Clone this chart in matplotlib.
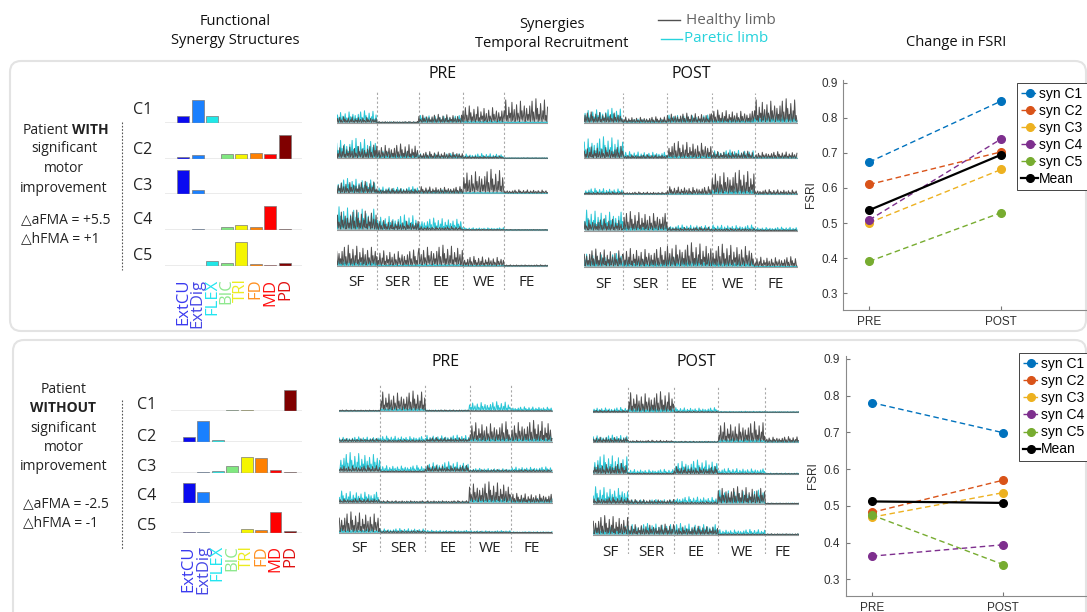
import numpy as np
import matplotlib.pyplot as plt
from matplotlib.patches import FancyBboxPatch

W, H = 1087, 612
HEAD_FONT = ['Open Sans', 'DejaVu Sans']
AX_FONT = ['Liberation Sans', 'DejaVu Sans']

# synergy structures (muscle weights, C1..C5)
MUSCLES = ['ExtCU', 'ExtDig', 'FLEX', 'BIC', 'TRI', 'FD', 'MD', 'PD']
BAR_COLORS = ['#0a0af0', '#1a80ff', '#20e8e8', '#80e880', '#f5f500', '#ff8000', '#ff0000', '#800000']
LABEL_COLORS = ['#3a3af0', '#4646e6', '#22e5f0', '#8ee88e', '#ecec20', '#ff9020', '#ff1010', '#e01010']
SYN = ['C1', 'C2', 'C3', 'C4', 'C5']

W_TOP = [[0.26, 0.95, 0.26, 0, 0, 0, 0, 0],
         [0.05, 0.15, 0, 0.20, 0.17, 0.25, 0.18, 0.97],
         [1.00, 0.20, 0, 0.02, 0.02, 0.02, 0, 0.02],
         [0, 0.03, 0, 0.12, 0.17, 0.10, 1.00, 0.02],
         [0, 0, 0.20, 0.12, 1.00, 0.08, 0.05, 0.13]]
W_BOT = [[0, 0, 0.02, 0.05, 0.05, 0.02, 0.03, 1.00],
         [0.23, 1.00, 0.09, 0, 0, 0, 0, 0],
         [0, 0.01, 0.07, 0.29, 0.73, 0.68, 0.14, 0.03],
         [0.92, 0.51, 0, 0.02, 0, 0, 0, 0],
         [0.02, 0.03, 0, 0, 0.17, 0.12, 0.96, 0.09]]

# temporal recruitment: peak activation per task (rows C1..C5)
TASKS = ['SF', 'SER', 'EE', 'WE', 'FE']
TOP_PRE_DUR = [40, 42, 44, 41, 44]
TOP_POST_DUR = [39, 44, 44, 43, 43]
BOT_PRE_DUR = [41, 45, 44, 41, 42]
BOT_POST_DUR = [35, 46, 44, 47, 34]

TOP_PRE_H = [[0.25, 0.05, 0.35, 0.70, 1.00],
             [0.55, 0.60, 0.28, 0.10, 0.02],
             [0.50, 0.20, 0.28, 1.00, 0.15],
             [0.83, 0.40, 0.15, 0.03, 0.02],
             [0.87, 0.67, 0.87, 0.40, 0.05]]
TOP_PRE_P = [[0.50, 0.03, 0.30, 0.10, 0.05],
             [0.83, 0.30, 0.20, 0.20, 0.02],
             [0.62, 0.28, 0.15, 0.05, 0.03],
             [0.97, 0.63, 0.50, 0.10, 0.02],
             [0.30, 0.10, 0.10, 0.05, 0.03]]
TOP_POST_H = [[0.45, 0.25, 0.40, 0.53, 1.00],
              [0.50, 0.15, 0.70, 0.30, 0.28],
              [0.10, 0.10, 0.32, 1.00, 0.20],
              [0.50, 0.80, 0.15, 0.10, 0.05],
              [0.74, 0.80, 1.00, 0.94, 0.42]]
TOP_POST_P = [[0.60, 0.15, 0.32, 0.20, 0.40],
              [0.90, 0.28, 0.20, 0.35, 0.10],
              [0.25, 0.05, 0.05, 0.30, 0.05],
              [0.86, 0.30, 0.24, 0.24, 0.15],
              [0.55, 0.30, 0.40, 0.30, 0.05]]
BOT_PRE_H = [[0.05, 0.94, 0.05, 0.02, 0.02],
             [0.15, 0.10, 0.20, 0.94, 1.00],
             [0.30, 0.05, 0.30, 0.10, 0.10],
             [0.20, 0.10, 0.10, 0.98, 0.44],
             [0.98, 0.10, 0.05, 0.05, 0.02]]
BOT_PRE_P = [[0.03, 0.20, 0.05, 0.44, 0.20],
             [0.23, 0.27, 0.31, 0.30, 0.30],
             [0.90, 0.30, 0.47, 0.16, 0.23],
             [0.55, 0.05, 0.05, 0.30, 0.20],
             [0.20, 0.20, 0.12, 0.10, 0.05]]
BOT_POST_H = [[0.10, 0.97, 0.05, 0.02, 0.02],
              [0.25, 0.10, 0.05, 0.97, 0.27],
              [0.50, 0.05, 0.35, 0.05, 0.03],
              [0.30, 0.20, 0.10, 0.80, 0.03],
              [0.90, 0.50, 0.40, 0.05, 0.05]]
BOT_POST_P = [[0.23, 0.30, 0.22, 0.05, 0.03],
              [0.34, 0.05, 0.05, 0.20, 0.10],
              [0.90, 0.22, 0.66, 0.27, 0.05],
              [0.80, 0.20, 0.33, 0.64, 0.03],
              [0.40, 0.53, 0.53, 0.25, 0.03]]

# spike texture used to draw the EMG-like traces
SPIKE = [0.1, 0.7, 0.05, 0.3, 0.9, 0.1, 0.45, 0.05, 0.2, 1.0, 0.15, 0.6, 0.05, 0.35, 0.1,
         0.8, 0.2, 0.05, 0.5, 0.15, 0.95, 0.1, 0.3, 0.05, 0.65, 0.2, 0.4, 0.05, 0.85, 0.1,
         0.25, 0.55, 0.05, 0.15, 0.75, 0.1, 0.4, 0.2, 0.05, 0.9, 0.15, 0.5, 0.1, 0.3, 0.7,
         0.05, 0.2, 0.6, 0.1, 0.35]

# FSRI
PHASES = ['PRE', 'POST']
FSRI_NAMES = ['syn C1', 'syn C2', 'syn C3', 'syn C4', 'syn C5']
FSRI_COLORS = ['#0072BD', '#D95319', '#EDB120', '#7E2F8E', '#77AC30']
TOP_FSRI_PRE = [0.674, 0.610, 0.501, 0.509, 0.391]
TOP_FSRI_POST = [0.848, 0.703, 0.653, 0.740, 0.530]
TOP_MEAN = [0.537, 0.695]
BOT_FSRI_PRE = [0.781, 0.482, 0.469, 0.363, 0.475]
BOT_FSRI_POST = [0.699, 0.570, 0.536, 0.394, 0.340]
BOT_MEAN = [0.512, 0.508]

GRAY = '#505050'
CYAN = '#2bc6d6'

fig = plt.figure(figsize=(W / 100, H / 100), dpi=100)


def px_ax(x0, y0, x1, y1):
    return fig.add_axes([x0 / W, 1 - y1 / H, (x1 - x0) / W, (y1 - y0) / H])


ov = fig.add_axes([0, 0, 1, 1], zorder=-1)
ov.set_xlim(0, W)
ov.set_ylim(H, 0)
ov.axis('off')

# rounded frames
for x0, y0, x1, y1 in [(10, 61, 1086, 331), (13, 340, 1086, 640)]:
    ov.add_patch(FancyBboxPatch((x0, y0), x1 - x0, y1 - y0,
                                boxstyle='round,pad=0,rounding_size=11',
                                fc='none', ec='#e3e3e3', lw=1.5))

# headers
ov.text(235, 31, 'Functional\nSynergy Structures', ha='center', va='center',
        fontsize=10.5, family=HEAD_FONT, linespacing=1.45, color='#111')
ov.text(552, 34, 'Synergies\nTemporal Recruitment', ha='center', va='center',
        fontsize=10.5, family=HEAD_FONT, linespacing=1.45, color='#111')
ov.text(956, 43, 'Change in FSRI', ha='center', va='center',
        fontsize=10.5, family=HEAD_FONT, color='#111')
ov.plot([658, 680], [20, 20], color=GRAY, lw=1)
ov.plot([661, 682], [38.5, 38.5], color='#27d3dc', lw=1)
ov.text(686, 20, 'Healthy limb', va='center', fontsize=11, family=HEAD_FONT, color='#666')
ov.text(684, 38.5, 'Paretic limb', va='center', fontsize=11, family=HEAD_FONT, color='#27d3dc')

# patient descriptions
ov.text(68.5, 130, 'Patient', ha='right', va='center', fontsize=10, family=HEAD_FONT, color='#222')
ov.text(72.5, 130, 'WITH', ha='left', va='center', fontsize=10, family=HEAD_FONT,
        weight='bold', color='#222')
for y, s in [(149, 'significant'), (168.5, 'motor'), (188, 'improvement')]:
    ov.text(64, y, s, ha='center', va='center', fontsize=10, family=HEAD_FONT, color='#222')
ov.text(21, 220, '\u25b3aFMA = +5.5', va='center', fontsize=10, family=HEAD_FONT, color='#222')
ov.text(21, 239, '\u25b3hFMA = +1', va='center', fontsize=10, family=HEAD_FONT, color='#222')
ov.plot([122, 122], [122, 270], color='#555', lw=0.8, ls=(0, (1.5, 1.5)))

for y, s, b in [(389.5, 'Patient', False), (408.5, 'WITHOUT', True), (428, 'significant', False),
                (447.5, 'motor', False), (467, 'improvement', False)]:
    ov.text(63.5, y, s, ha='center', va='center', fontsize=10, family=HEAD_FONT,
            weight='bold' if b else 'normal', color='#222')
ov.text(23, 503.5, '\u25b3aFMA = -2.5', va='center', fontsize=10, family=HEAD_FONT, color='#222')
ov.text(23, 522.5, '\u25b3hFMA = -1', va='center', fontsize=10, family=HEAD_FONT, color='#222')
ov.plot([122, 122], [400, 550], color='#555', lw=0.8, ls=(0, (1.5, 1.5)))


def draw_bars(weights, x0, x1, first_x, step, bases, scale, c_x, c_ys):
    for r, base in enumerate(bases):
        ax = px_ax(x0, base - 28, x1, base)
        ax.set_facecolor('none')
        lo = -(first_x - x0) / step
        hi = lo + (x1 - x0) / step
        ax.set_xlim(lo, hi)
        ax.set_ylim(0, 28 / scale)
        ax.bar(range(len(MUSCLES)), weights[r], width=0.82, color=BAR_COLORS,
               edgecolor='#7a7a7a', lw=0.5)
        ax.axhline(0, color='#9a9a9a', lw=1)
        for sp in ax.spines.values():
            sp.set_visible(False)
        ax.set_yticks([])
        if r == len(bases) - 1:
            ax.set_xticks(range(len(MUSCLES)))
            ax.set_xticklabels(MUSCLES, rotation=90, fontsize=12, family=HEAD_FONT)
            ax.tick_params(axis='x', length=0, pad=9)
            for lbl, c in zip(ax.get_xticklabels(), LABEL_COLORS):
                lbl.set_color(c)
        else:
            ax.set_xticks([])
        ov.text(c_x, c_ys[r], SYN[r], ha='center', va='center', fontsize=11.5,
                family=HEAD_FONT, color='#222')


draw_bars(W_TOP, 165, 302, 183, 14.57, [122.7, 158.5, 194.3, 229.5, 266], 24,
          143, [110, 150.5, 185.5, 220, 256])
draw_bars(W_BOT, 170.7, 301.7, 188.7, 14.47, [411.3, 442.3, 472.7, 503, 532.7], 21.5,
          147, [405, 437.3, 467.3, 495.7, 526])


def draw_panel(title, title_y, x0, x1, ytop, ybot, label_y, bases, scale, dur, healthy, paretic):
    ax = px_ax(x0, ytop, x1, ybot)
    ax.set_facecolor('none')
    total = sum(dur)
    ax.set_xlim(0, total)
    ax.set_ylim(ybot, ytop)
    ax.axis('off')
    edges = np.concatenate([[0], np.cumsum(dur)])
    for e in edges[1:-1]:
        ax.axvline(e, color='#a8a8a8', lw=0.8, ls=(0, (2, 2)))
    for name, a, b in zip(TASKS, edges[:-1], edges[1:]):
        ax.text((a + b) / 2, label_y, name, ha='center', va='center', fontsize=11,
                family=HEAD_FONT, color='#222')
    for r, base in enumerate(bases):
        ax.plot([0, total], [base, base], color='#9a9a9a', lw=0.8)
        for levels, color, shift in ((paretic[r], CYAN, 23), (healthy[r], GRAY, 0)):
            xs, ys = [], []
            for s, (a, b) in enumerate(zip(edges[:-1], edges[1:])):
                n = int(round((b - a) * 1.3))
                idx = (np.arange(n) + shift + 11 * r + 17 * s) % len(SPIKE)
                xs.append(np.linspace(a, b, n, endpoint=False))
                ys.append(levels[s] * np.take(SPIKE, idx))
            x = np.concatenate(xs)
            y = base - scale * np.concatenate(ys)
            ax.fill_between(x, base, y, color=color, alpha=0.3, lw=0)
            ax.plot(x, y, color=color, lw=0.7)
    ov.text((x0 + x1) / 2, title_y, title, ha='center', va='center', fontsize=11.5,
            family=HEAD_FONT, color='#111')


draw_panel('PRE', 74, 336.7, 548.3, 90, 290, 283, [122.7, 158.3, 193.3, 230, 266], 24,
           TOP_PRE_DUR, TOP_PRE_H, TOP_PRE_P)
draw_panel('POST', 74, 584.3, 797.7, 93, 290, 285, [122.7, 158.3, 194.3, 230.7, 266.7], 24,
           TOP_POST_DUR, TOP_POST_H, TOP_POST_P)
draw_panel('PRE', 362.5, 339.3, 552.7, 385, 552, 549, [411, 441.7, 471.7, 502.7, 532.7], 21.3,
           BOT_PRE_DUR, BOT_PRE_H, BOT_PRE_P)
draw_panel('POST', 362.5, 593.3, 799.3, 387, 554, 552, [412.3, 442.3, 474, 503.7, 534.7], 21.3,
           BOT_POST_DUR, BOT_POST_H, BOT_POST_P)


def draw_fsri(box, xlim, ylim, pre, post, mean, leg_anchor):
    ax = px_ax(*box)
    ax.set_facecolor('none')
    xs = [1, 2]
    for name, c, a, b in zip(FSRI_NAMES, FSRI_COLORS, pre, post):
        ax.plot(xs, [a, b], ls=(0, (4, 2.5)), color=c, lw=1.0, marker='o', ms=5.5,
                label=name, clip_on=False)
    ax.plot(xs, mean, color='black', lw=1.6, marker='o', ms=5.5, label='Mean', clip_on=False)
    ax.set_xlim(*xlim)
    ax.set_ylim(*ylim)
    ax.set_xticks(xs)
    ax.set_xticklabels(PHASES, family=AX_FONT, fontsize=8.5)
    ax.set_yticks([0.3, 0.4, 0.5, 0.6, 0.7, 0.8, 0.9])
    ax.set_yticklabels(['0.3', '0.4', '0.5', '0.6', '0.7', '0.8', '0.9'], family=AX_FONT, fontsize=8.5)
    ax.tick_params(direction='in', length=3, color='#777', labelcolor='#303030', pad=4)
    ax.set_ylabel('FSRI', family=AX_FONT, fontsize=8.5, color='#303030', labelpad=3)
    for k in ('top', 'right'):
        ax.spines[k].set_visible(False)
    for k in ('left', 'bottom'):
        ax.spines[k].set_color('#8a8a8a')
        ax.spines[k].set_linewidth(0.8)
    leg = ax.legend(loc='upper left', bbox_to_anchor=leg_anchor, borderaxespad=0,
                    prop={'family': AX_FONT, 'size': 10}, labelspacing=0.22, borderpad=0.3,
                    handlelength=1.2, handletextpad=0.1, fancybox=False, framealpha=1)
    leg.get_frame().set_edgecolor('#262626')
    leg.get_frame().set_linewidth(0.6)


draw_fsri((843.3, 80, 1087, 310), (0.803, 2.649), (0.2524, 0.9077),
          TOP_FSRI_PRE, TOP_FSRI_POST, TOP_MEAN, (0.713, 0.988))
draw_fsri((845.7, 356, 1087, 596), (0.802, 2.636), (0.2545, 0.908),
          BOT_FSRI_PRE, BOT_FSRI_POST, BOT_MEAN, (0.718, 1.0125))

fig.savefig('out.png', dpi=100, facecolor='white')
